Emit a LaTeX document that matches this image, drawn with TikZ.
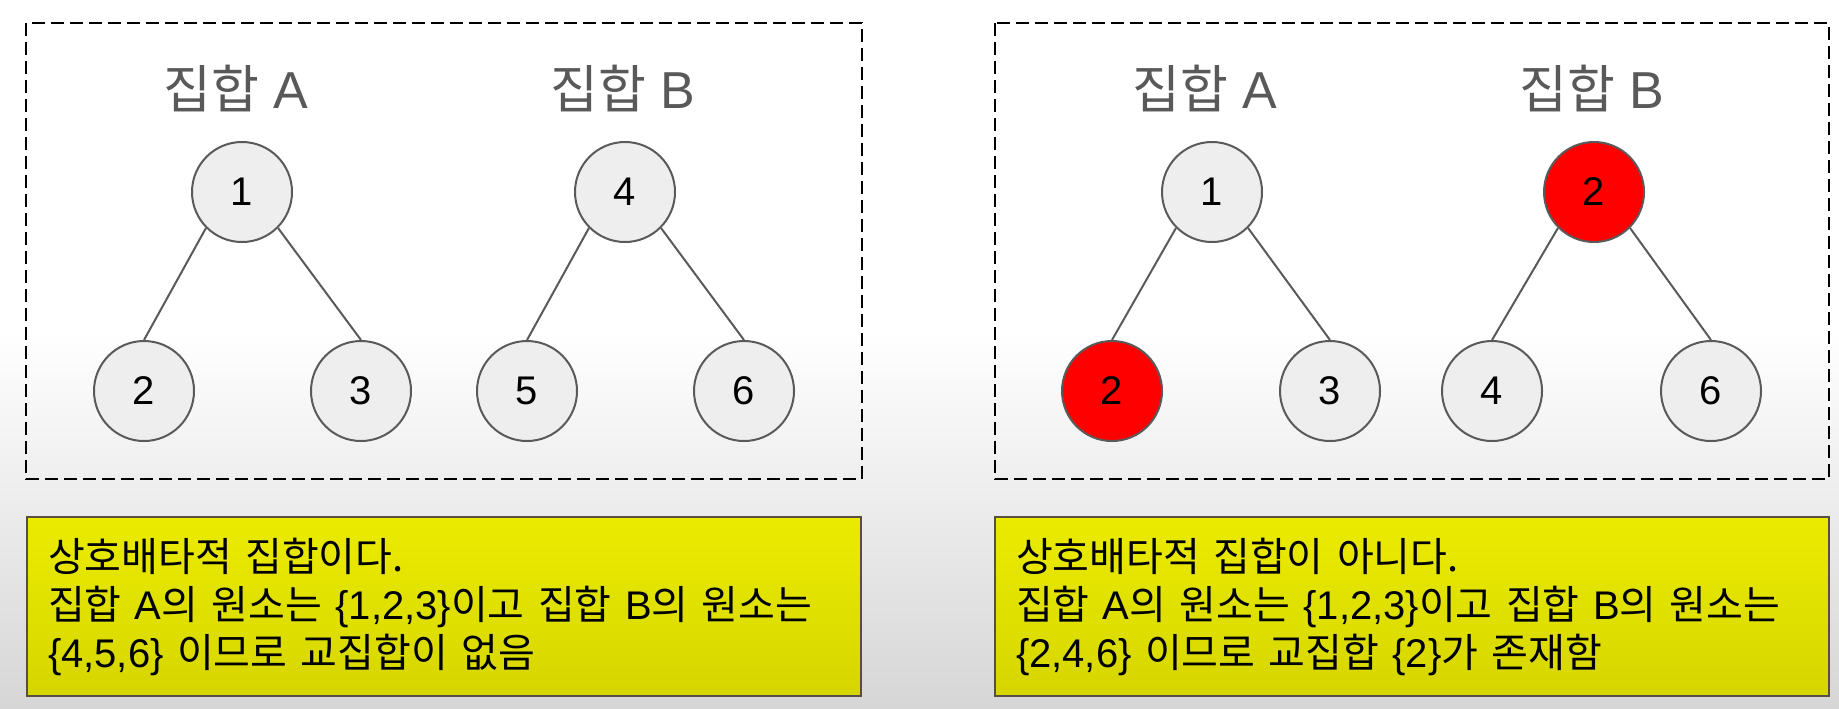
\documentclass[tikz,border=0pt]{standalone}
\usepackage{fontspec}
\setmainfont{Liberation Sans}
\newfontfamily\kr{Noto Sans CJK KR}
\usetikzlibrary{positioning}
\definecolor{elemfill}{HTML}{EEEEEE}
\definecolor{elemline}{HTML}{5A5A5A}
\definecolor{titlegray}{HTML}{595959}
\definecolor{hitred}{HTML}{FF0000}
\definecolor{noteline}{HTML}{5A4E40}
\definecolor{notetop}{HTML}{EBEB00}
\definecolor{notebot}{HTML}{D6D600}
\definecolor{bggray}{HTML}{D6D6D6}

\begin{document}
\begin{tikzpicture}[x=0.5pt, y=-0.5pt, semithick,
    elem/.style={circle, draw=elemline, line width=1pt, fill=elemfill, minimum size=50pt, inner sep=0pt, font=\fontsize{20}{20}\selectfont},
    hit/.style={elem, fill=hitred},
    settitle/.style={text=titlegray, font=\fontsize{26}{26}\selectfont},
    dashbox/.style={draw=black, line width=1.2pt, dash pattern=on 6.5pt off 3pt},
    notebox/.style={draw=noteline, line width=1pt, top color=notetop, bottom color=notebot, minimum width=417pt, minimum height=89.5pt, text width=396pt, inner xsep=10.5pt, align=left, font=\fontsize{20}{24}\selectfont},
    link/.style={draw=elemline, line width=1pt}]
      \useasboundingbox (0,0) rectangle (1839,708);
      \fill[white] (0,0) rectangle (1839,708);
      \shade[top color=white, bottom color=bggray] (0,330) rectangle (1839,708);

      % Left panel: disjoint sets
      \draw[dashbox] (26,23) rectangle (862,479);
      \node[settitle] (tA1) at (236,88) {{\kr 집합} A};
      \node[settitle] (tB1) at (623,88) {{\kr 집합} B};
      \node[elem] (a1) at (242,192) {1};
      \node[elem] (a2) at (144,391) {2};
      \node[elem] (a3) at (361,391) {3};
      \node[elem] (b4) at (625,192) {4};
      \node[elem] (b5) at (527,391) {5};
      \node[elem] (b6) at (744,391) {6};

      % Right panel: sets sharing 2
      \draw[dashbox] (995,23) rectangle (1829,479);
      \node[settitle] (tA2) at (1205,88) {{\kr 집합} A};
      \node[settitle] (tB2) at (1592,88) {{\kr 집합} B};
      \node[elem] (c1) at (1212,192) {1};
      \node[hit]  (c2) at (1112,391) {2};
      \node[elem] (c3) at (1330,391) {3};
      \node[hit]  (d2) at (1594,192) {2};
      \node[elem] (d4) at (1492,391) {4};
      \node[elem] (d6) at (1711,391) {6};

      % Tree links
      \path[link] (a1.south west) edge (a2.north)
            (a1.south east) edge (a3.north)
            (b4.south west) edge (b5.north)
            (b4.south east) edge (b6.north)
            (c1.south west) edge (c2.north)
            (c1.south east) edge (c3.north)
            (d2.south west) edge (d4.north)
            (d2.south east) edge (d6.north);

      % Notes
      \node[notebox] (noteL) at (444,606.5) {{\kr 상호배타적 집합이다.}\\
        {\kr 집합} A{\kr 의 원소는} \{1,2,3\}{\kr 이고 집합} B{\kr 의 원소는}\\
        \{4,5,6\} {\kr 이므로 교집합이 없음}};
      \node[notebox] (noteR) at (1412,606.5) {{\kr 상호배타적 집합이 아니다.}\\
        {\kr 집합} A{\kr 의 원소는} \{1,2,3\}{\kr 이고 집합} B{\kr 의 원소는}\\
        \{2,4,6\} {\kr 이므로 교집합} \{2\}{\kr 가 존재함}};
\end{tikzpicture}
\end{document}
